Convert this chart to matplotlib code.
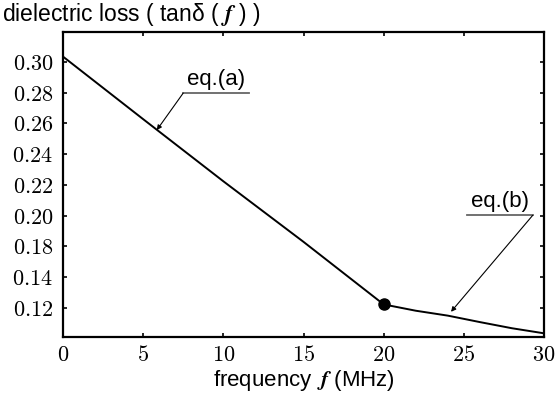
import numpy as np
import matplotlib.pyplot as plt

plt.rcParams['mathtext.fontset'] = 'cm'
plt.rcParams['font.family'] = ['Liberation Sans', 'DejaVu Sans']

# frequency (MHz) and tan delta (axis units)
freq_a = [0, 5, 10, 15, 20]
loss_a = [0.3035, 0.2628, 0.2224, 0.1830, 0.1423]
freq_b = [20, 22, 24, 26, 28, 30]
loss_b = [0.1423, 0.1382, 0.1350, 0.1308, 0.1268, 0.1235]

# tick positions and the labels printed on them in the original
ytick_pos = [0.30, 0.28, 0.26, 0.24, 0.22, 0.20, 0.18, 0.16, 0.14]
ytick_lab = ['0.30', '0.28', '0.26', '0.24', '0.22', '0.20', '0.18', '0.14', '0.12']
xtick_pos = [0, 5, 10, 15, 20, 25, 30]

fig = plt.figure(figsize=(5.59, 3.99), dpi=100)
ax = fig.add_axes([63/559, 1-337/399, (544-63)/559, (337-32)/399])

ax.plot(freq_a, loss_a, color='black', lw=1.4)
ax.plot(freq_b, loss_b, color='black', lw=1.4)
ax.plot([freq_a[-1]], [loss_a[-1]], 'o', color='black', ms=8, zorder=5)

ax.set_xlim(0, 30)
ax.set_ylim(0.1211, 0.3195)
ax.set_xticks(xtick_pos)
ax.set_xticklabels(['$%d$' % v for v in xtick_pos], fontsize=16)
ax.set_yticks(ytick_pos)
ax.set_yticklabels(['$%s$' % s for s in ytick_lab], fontsize=16)
ax.tick_params(direction='in', length=3, width=1.2, top=True, right=True)
ax.tick_params(axis='x', pad=6)
ax.tick_params(axis='y', pad=7)
for s in ax.spines.values():
    s.set_linewidth(1.6)

ax.set_xlabel(r'frequency $\,\mathbfit{f}$ (MHz)', fontsize=16, labelpad=1)
fig.text(0.004, 1-14/399, r'dielectric loss ( tanδ ( $\mathbfit{f}$ ) )',
         fontsize=16.5, va='center', ha='left')

# annotations: text over a grey underline, arrow from one end of it
def label(txt, x0, x1, y, start, tip):
    ax.plot([x0, x1], [y, y], color='#666666', lw=1.3, clip_on=False)
    ax.text((x0+x1)/2, y + 0.002, txt, fontsize=16, ha='center', va='bottom')
    ax.annotate('', xy=tip, xytext=(start, y),
                arrowprops=dict(arrowstyle='-|>', color='black', lw=0.8,
                                mutation_scale=7, shrinkA=0, shrinkB=0))

label('eq.(a)', 7.5, 11.6, 0.2798, 7.5, (5.85, 0.2557))
label('eq.(b)', 25.2, 29.3, 0.2003, 29.3, (24.2, 0.1375))

fig.savefig('out.png', dpi=100)
